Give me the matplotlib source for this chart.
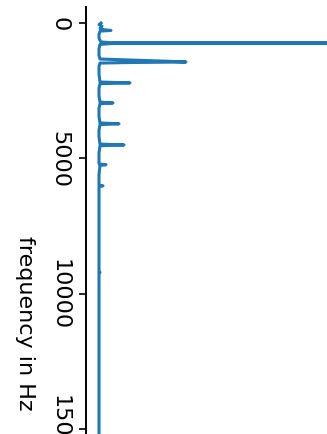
import matplotlib
matplotlib.use("Agg")
import matplotlib.pyplot as plt

# spectrum points: frequency (Hz) and magnitude (arbitrary units)
freq_hz = [0, 60, 120, 200, 250, 275, 300, 420, 560, 640, 700, 725,
           740, 755, 790, 950, 1200, 1330, 1400, 1420, 1440, 1460, 1480,
           1600, 1900, 2180, 2210, 2240, 2400, 2700, 2920, 2950, 2980,
           3150, 3450, 3690, 3720, 3750, 3950, 4200, 4470, 4500, 4530,
           4800, 5200, 5230, 5260, 5600, 5980, 6010, 6040, 6500, 8000,
           9170, 9200, 9230, 12000, 16000, 20000, 22050]
magnitude = [3, 1, 4, 2, 6, 13, 2, 1, 1, 2, 3, 12,
             260, 15, 2, 1, 1, 2, 60, 75, 88, 30, 2,
             1, 1, 2, 32, 2, 1, 1, 2, 15, 2,
             1, 1, 2, 21, 2, 1, 1, 2, 26, 2,
             1, 1, 8, 2, 1, 1, 5, 1, 1, 1,
             1, 2, 1, 1, 1, 1, 1]

fig = plt.figure(figsize=(3.27, 4.35), dpi=100)
ax = fig.add_axes([86 / 327, (435 - 638) / 435, 241 / 327, 630 / 435])

ax.plot(magnitude, freq_hz, color="tab:blue", linewidth=2.2)
ax.set_ylim(22660, -590)
ax.set_xlim(-12, 229)
ax.set_yticks([0, 5000, 10000, 15000, 20000])

for side in ["top", "right", "bottom"]:
    ax.spines[side].set_visible(False)
ax.spines["left"].set_linewidth(1.4)
ax.set_xticks([])
ax.tick_params(axis="y", length=5, width=1.2, pad=7, labelsize=16)
for lbl in ax.get_yticklabels():
    lbl.set_rotation(-90)
    lbl.set_va("center")
ax.set_ylabel("frequency in Hz", fontsize=16, rotation=-90, labelpad=25,
              va="bottom")

fig.savefig("out.png", dpi=100)
